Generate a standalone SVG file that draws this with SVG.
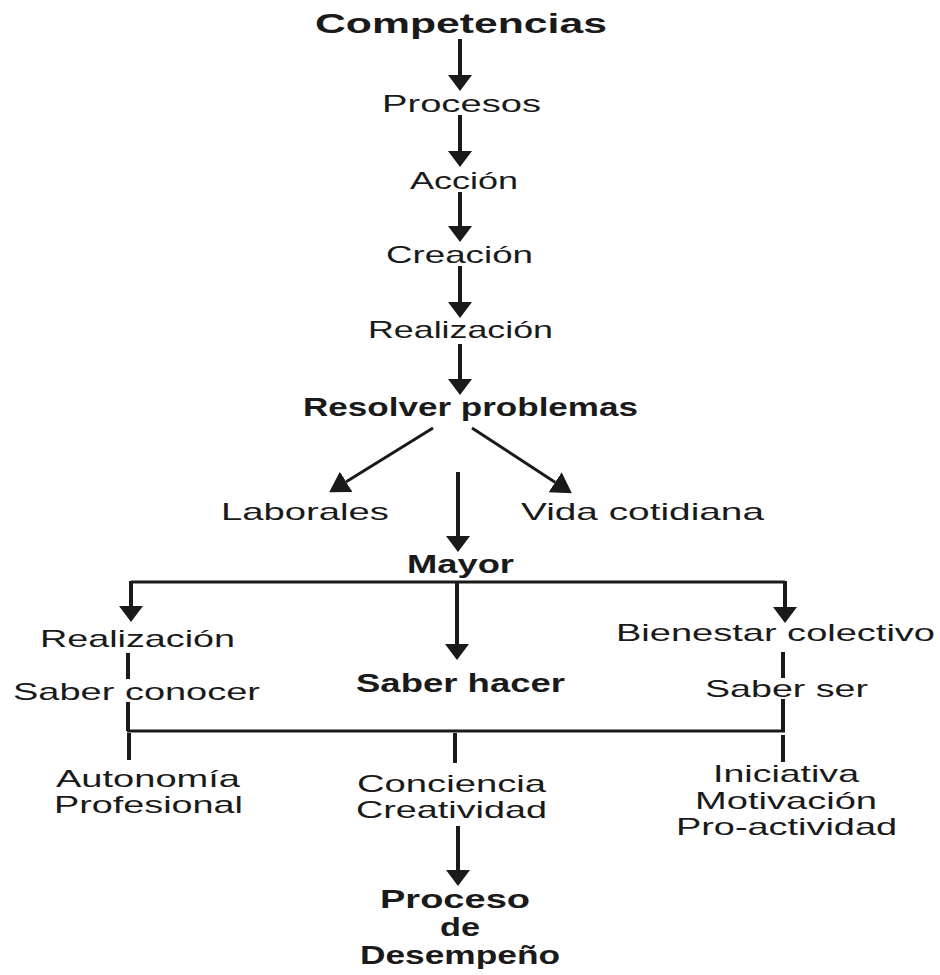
<svg xmlns="http://www.w3.org/2000/svg" width="940" height="975" viewBox="0 0 940 975">
<style>
  text { font-family: "Liberation Sans", Arial, sans-serif; fill: #1a1a1a; }
  .r { font-size: 24px; }
  .b { font-size: 25px; font-weight: bold; }
  .t { font-size: 28px; font-weight: bold; }
  .ln { stroke: #1a1a1a; stroke-width: 4; fill: none; }
  .h { stroke: #1a1a1a; stroke-width: 3; fill: none; }
  .va { marker-end: url(#ah); }
  .da { stroke-width: 3; marker-end: url(#ad); }
</style>
<defs>
  <marker id="ah" viewBox="0 0 16 24" refX="0" refY="12" markerWidth="16" markerHeight="24" markerUnits="userSpaceOnUse" orient="auto">
    <path d="M0,0 L16,12 L0,24 z" fill="#1a1a1a"/>
  </marker>
  <marker id="ad" viewBox="0 0 20 24" refX="0" refY="12" markerWidth="20" markerHeight="24" markerUnits="userSpaceOnUse" orient="auto">
    <path d="M0,0 L20,12 L0,24 z" fill="#1a1a1a"/>
  </marker>
</defs>

<g id="connectors">
  <line class="ln va" x1="460" y1="39" x2="460" y2="75"/>
  <line class="ln va" x1="460" y1="115" x2="460" y2="151"/>
  <line class="ln va" x1="460" y1="192" x2="460" y2="226"/>
  <line class="ln va" x1="460" y1="266" x2="460" y2="302"/>
  <line class="ln va" x1="460" y1="344" x2="460" y2="379"/>
  <line class="ln da" x1="433" y1="428" x2="346.2" y2="481.8"/>
  <line class="ln da" x1="472" y1="428" x2="555.1" y2="482.3"/>
  <line class="ln va" x1="458" y1="472" x2="458" y2="536"/>
  <line class="h" x1="131" y1="582" x2="785" y2="582"/>
  <line class="ln va" x1="131" y1="581" x2="131" y2="606"/>
  <line class="ln va" x1="457" y1="581" x2="457" y2="644"/>
  <line class="ln va" x1="785" y1="581" x2="785" y2="607"/>
  <line class="ln" x1="128" y1="653" x2="128" y2="679"/>
  <line class="ln" x1="128" y1="702" x2="128" y2="731"/>
  <line class="ln" x1="783" y1="652" x2="783" y2="678"/>
  <line class="ln" x1="783" y1="699" x2="783" y2="731"/>
  <line class="h" x1="127" y1="731" x2="785" y2="731"/>
  <line class="ln" x1="129" y1="733" x2="129" y2="760"/>
  <line class="ln" x1="455" y1="733" x2="455" y2="763"/>
  <line class="ln" x1="783" y1="735" x2="783" y2="762"/>
  <line class="ln va" x1="458" y1="826" x2="458" y2="870"/>
</g>

<g id="competencias"><text class="t" x="315" y="33" textLength="292" lengthAdjust="spacingAndGlyphs">Competencias</text></g>
<g id="procesos"><text class="r" x="382" y="112" textLength="159" lengthAdjust="spacingAndGlyphs">Procesos</text></g>
<g id="accion"><text class="r" x="410" y="189" textLength="108" lengthAdjust="spacingAndGlyphs">Acción</text></g>
<g id="creacion"><text class="r" x="386" y="263" textLength="147" lengthAdjust="spacingAndGlyphs">Creación</text></g>
<g id="realizacion-top"><text class="r" x="368" y="338" textLength="185" lengthAdjust="spacingAndGlyphs">Realización</text></g>
<g id="resolver"><text class="b" x="303" y="416" textLength="335" lengthAdjust="spacingAndGlyphs">Resolver problemas</text></g>
<g id="laborales"><text class="r" x="221" y="520" textLength="168" lengthAdjust="spacingAndGlyphs">Laborales</text></g>
<g id="vida"><text class="r" x="521" y="520" textLength="243" lengthAdjust="spacingAndGlyphs">Vida cotidiana</text></g>
<g id="mayor"><text class="b" x="407" y="573" textLength="107" lengthAdjust="spacingAndGlyphs">Mayor</text></g>
<g id="realizacion-left"><text class="r" x="40" y="647" textLength="195" lengthAdjust="spacingAndGlyphs">Realización</text></g>
<g id="bienestar"><text class="r" x="616" y="641" textLength="319" lengthAdjust="spacingAndGlyphs">Bienestar colectivo</text></g>
<g id="saber-conocer"><text class="r" x="13" y="700" textLength="247" lengthAdjust="spacingAndGlyphs">Saber conocer</text></g>
<g id="saber-hacer"><text class="b" x="356" y="692" textLength="209" lengthAdjust="spacingAndGlyphs">Saber hacer</text></g>
<g id="saber-ser"><text class="r" x="705" y="697" textLength="163" lengthAdjust="spacingAndGlyphs">Saber ser</text></g>
<g id="autonomia">
  <text class="r" x="56" y="787" textLength="184" lengthAdjust="spacingAndGlyphs">Autonomía</text>
  <text class="r" x="54" y="813" textLength="189" lengthAdjust="spacingAndGlyphs">Profesional</text>
</g>
<g id="conciencia">
  <text class="r" x="357" y="792" textLength="189" lengthAdjust="spacingAndGlyphs">Conciencia</text>
  <text class="r" x="356" y="818" textLength="191" lengthAdjust="spacingAndGlyphs">Creatividad</text>
</g>
<g id="iniciativa">
  <text class="r" x="713" y="782" textLength="146" lengthAdjust="spacingAndGlyphs">Iniciativa</text>
  <text class="r" x="695" y="809" textLength="182" lengthAdjust="spacingAndGlyphs">Motivación</text>
  <text class="r" x="676" y="835" textLength="221" lengthAdjust="spacingAndGlyphs">Pro-actividad</text>
</g>
<g id="proceso-desempeno">
  <text class="b" x="380" y="908" textLength="150" lengthAdjust="spacingAndGlyphs">Proceso</text>
  <text class="b" x="440" y="936" textLength="40" lengthAdjust="spacingAndGlyphs">de</text>
  <text class="b" x="360" y="964" textLength="200" lengthAdjust="spacingAndGlyphs">Desempeño</text>
</g>
</svg>
